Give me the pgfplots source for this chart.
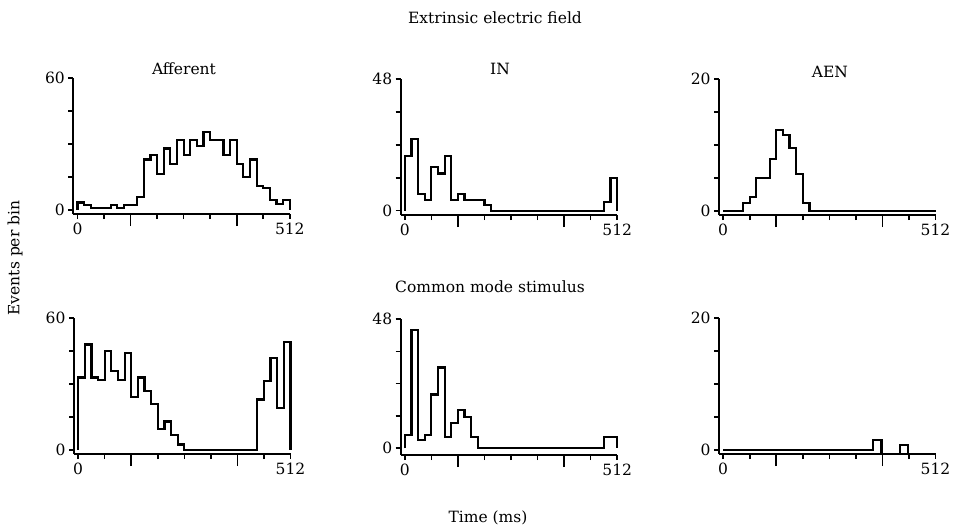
\documentclass[border=0pt]{standalone}
\usepackage{fontspec}
\setmainfont{DejaVu Serif}
\usepackage{pgfplots}
\pgfplotsset{compat=1.18}

\newcommand{\fs}{\fontsize{15.5}{18}\selectfont}

% one histogram panel, drawn like the old detached-axis plots
\pgfplotsset{
  panel/.style={
    scale only axis, width=216.5pt, height=136pt,
    anchor=south west, clip=false,
    axis lines=left, axis line style={-, line width=1.8pt},
    xmin=-10, xmax=512,
    tick align=outside, major tick length=5pt,
    every tick/.style={black, line width=1.6pt},
    xtick={0,64,...,512}, xticklabels={0,,,,,,,,512},
    extra x ticks={128,384}, extra x tick labels={,},
    extra x tick style={major tick length=12pt},
    tick label style={font=\fs},
    /pgf/number format/assume math mode=true,
  },
  hist/.style={const plot, black, line width=2.2pt, line join=miter},
}

\begin{document}
\begin{tikzpicture}
\path[use as bounding box] (0,0) rectangle (960pt,-532pt);

% ---- Extrinsic electric field ----
\begin{axis}[panel, at={(73.3pt,-214pt)}, ymin=-1.8, ymax=60,
  ytick={0,15,30,45,60}, yticklabels={0,,,,60}]
\addplot[hist] coordinates {
(0,0) (0,3.4) (16,2.3) (32,0.8) (48,0.8) (64,0.8) (80,2.3) (96,0.8) (112,2.3)
(128,2.3) (144,6) (160,23) (176,25) (192,16.5) (208,28) (224,21) (240,32)
(256,25) (272,32) (288,29) (304,35.5) (320,32) (336,32) (352,25) (368,32)
(384,21) (400,15) (416,23) (432,11) (448,10) (464,4.6) (480,2.8) (496,4.6)
(512,4.6) (512,0)};
\end{axis}

\begin{axis}[panel, at={(400.7pt,-215pt)}, ymin=-1.6, ymax=48,
  ytick={0,12,24,36,48}, yticklabels={0,,,,48}]
\addplot[hist] coordinates {
(0,0) (0,20) (16,26) (32,6) (48,4) (64,16) (80,13.5) (96,20) (112,4)
(128,6) (144,4) (160,4) (176,4) (192,2) (208,0) (224,0) (240,0)
(256,0) (272,0) (288,0) (304,0) (320,0) (336,0) (352,0) (368,0)
(384,0) (400,0) (416,0) (432,0) (448,0) (464,0) (480,3) (496,12)
(512,12) (512,0)};
\end{axis}

\begin{axis}[panel, at={(719pt,-215pt)}, ymin=-0.65, ymax=20,
  ytick={0,5,10,15,20}, yticklabels={0,,,,20}]
\addplot[hist] coordinates {
(0,0) (48,1.2) (64,2.1) (80,5) (96,5) (112,7.8) (128,12.3) (144,11.5)
(160,9.5) (176,5.6) (192,1.2) (208,0) (512,0)};
\end{axis}

% ---- Common mode stimulus ----
\begin{axis}[panel, at={(74pt,-454pt)}, ymin=-1.8, ymax=60,
  ytick={0,15,30,45,60}, yticklabels={0,,,,60}]
\addplot[hist] coordinates {
(0,0) (0,33) (16,48) (32,33) (48,32) (64,45) (80,36) (96,32) (112,44)
(128,24) (144,33) (160,27) (176,21) (192,9.4) (208,13) (224,6.7) (240,2.5)
(256,0) (272,0) (288,0) (304,0) (320,0) (336,0) (352,0) (368,0)
(384,0) (400,0) (416,0) (432,23) (448,31.5) (464,42) (480,19) (496,49)
(512,49) (512,0)};
\end{axis}

\begin{axis}[panel, at={(400.7pt,-455pt)}, ymin=-2.5, ymax=48,
  ytick={0,12,24,36,48}, yticklabels={0,,,,48}]
\addplot[hist] coordinates {
(0,0) (0,5) (16,44) (32,3) (48,5) (64,20) (80,30) (96,4.3) (112,9.3)
(128,14.3) (144,11.5) (160,4.3) (176,0) (192,0) (208,0) (224,0) (240,0)
(256,0) (272,0) (288,0) (304,0) (320,0) (336,0) (352,0) (368,0)
(384,0) (400,0) (416,0) (432,0) (448,0) (464,0) (480,4.3) (496,4.3)
(512,4.3) (512,0)};
\end{axis}

\begin{axis}[panel, at={(719pt,-454pt)}, ymin=-0.61, ymax=20,
  ytick={0,5,10,15,20}, yticklabels={0,,,,20}]
\addplot[hist] coordinates {
(0,0) (362,1.5) (382,-0.6) (426,0.75) (446,-0.6) (512,-0.6)};
\end{axis}

% titles and axis labels
\node[font=\fs] at (495pt,-18pt) {Extrinsic electric field};
\node[font=\fs] at (184pt,-69pt) {Afferent};
\node[font=\fs] at (500pt,-69pt) {IN};
\node[font=\fs] at (830pt,-72pt) {AEN};
\node[font=\fs] at (490pt,-287pt) {Common mode stimulus};
\node[font=\fs, rotate=90] at (15pt,-258pt) {Events per bin};
\node[font=\fs] at (488pt,-518pt) {Time (ms)};
\end{tikzpicture}
\end{document}
